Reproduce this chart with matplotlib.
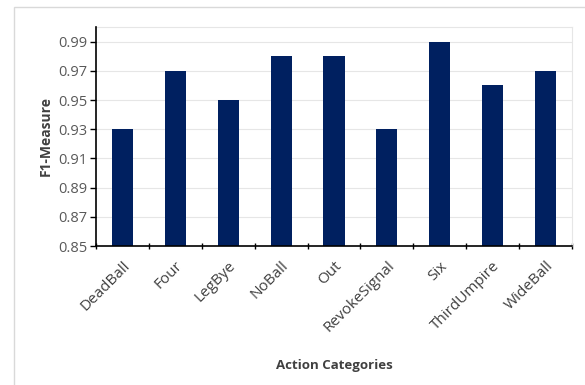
import numpy as np
import matplotlib.pyplot as plt
from matplotlib.patches import Rectangle

categories = ['DeadBall', 'Four', 'LegBye', 'NoBall', 'Out',
              'RevokeSignal', 'Six', 'ThirdUmpire', 'WideBall']
f1_scores = [0.93, 0.97, 0.95, 0.98, 0.98, 0.93, 0.99, 0.96, 0.97]
y_ticks = [0.85, 0.87, 0.89, 0.91, 0.93, 0.95, 0.97, 0.99]

plt.rcParams['font.family'] = ['Open Sans', 'DejaVu Sans']

fig = plt.figure(figsize=(5.85, 3.85), dpi=100)
# outer chart frame (Excel style)
fig.patches.append(Rectangle((14 / 585, -0.05), 1.0, 1 - 7 / 385 + 0.05,
                             transform=fig.transFigure, fill=False,
                             edgecolor='#d9d9d9', linewidth=1.0))

ax = fig.add_axes([96 / 585, 1 - 246 / 385, (572 - 96) / 585, (246 - 27) / 385])

x = np.arange(len(categories))
ax.bar(x, f1_scores, width=0.4, color='#002060', zorder=3)

ax.set_xlim(-0.5, len(categories) - 0.5)
ax.set_ylim(0.85, 1.0)
ax.set_yticks(y_ticks)
ax.set_yticklabels(['%.2f' % v for v in y_ticks])
ax.yaxis.grid(True, color='#e6e6e6', linewidth=0.8, zorder=0)

ax.set_xticks(x)
ax.set_xticklabels(categories, rotation=45, ha='right', rotation_mode='anchor')
ax.set_xticks(np.arange(len(categories) + 1) - 0.5, minor=True)
ax.tick_params(axis='x', which='major', length=0, pad=9, labelsize=11, labelcolor='#404040')
ax.tick_params(axis='x', which='minor', length=5, width=1.0, direction='inout')
ax.tick_params(axis='y', length=4, width=1.0, labelsize=10.5, labelcolor='#595959', pad=2)

for side in ['top', 'right']:
    ax.spines[side].set_color('#e6e6e6')
    ax.spines[side].set_linewidth(0.8)
for side in ['left', 'bottom']:
    ax.spines[side].set_color('black')
    ax.spines[side].set_linewidth(1.2)
    ax.spines[side].set_zorder(4)

ax.set_ylabel('F1-Measure', fontsize=10, fontweight='bold', color='#404040', labelpad=4)
ax.set_xlabel('Action Categories', fontsize=9.5, fontweight='bold', color='#404040', labelpad=17)

fig.savefig('out.png', dpi=100)
